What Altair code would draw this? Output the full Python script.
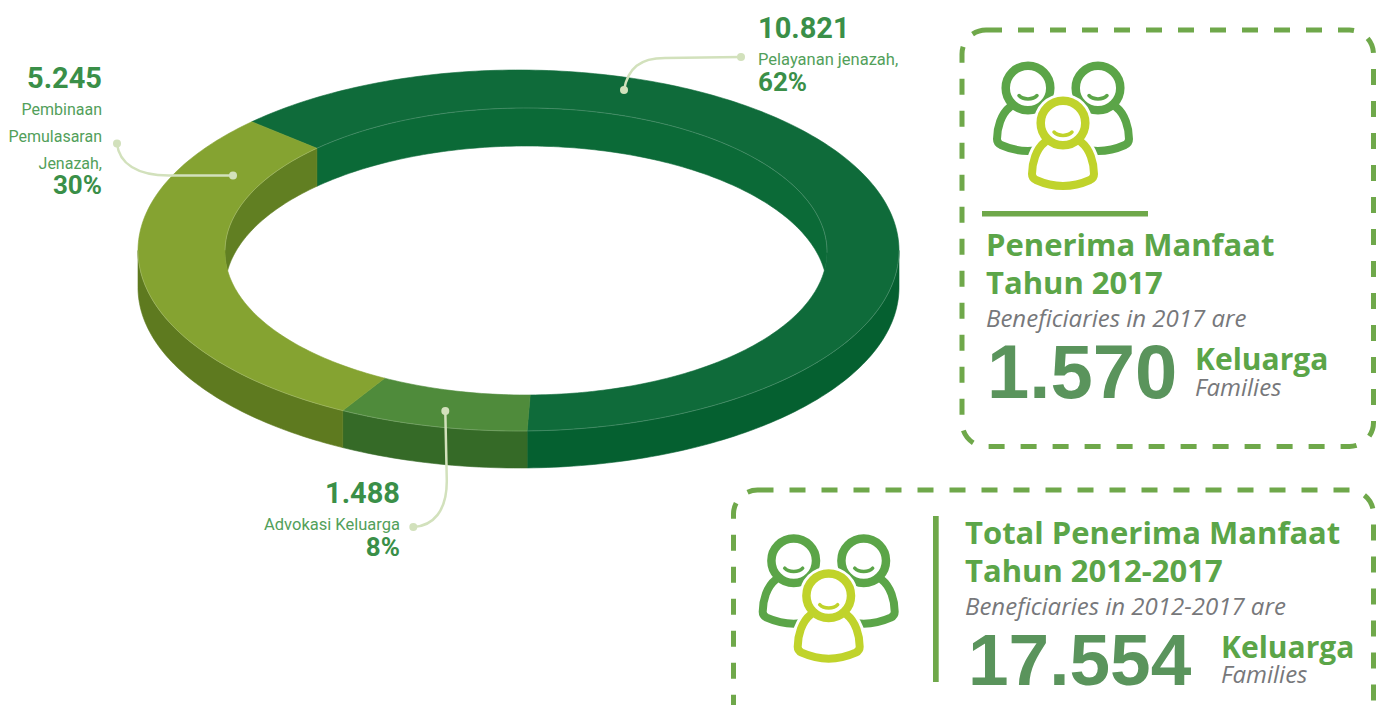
import math
import altair as alt

# ---- data ----
SLICE_NAMES = ["Pelayanan jenazah", "Advokasi Keluarga", "Pembinaan Pemulasaran Jenazah"]
SLICE_VALUES = [10821, 1488, 5245]
SLICE_PERCENT = [62, 8, 30]
SLICE_TOP = ["#0F6B3A", "#4F8B3B", "#85A331"]
SLICE_OUTER_WALL = ["#056030", "#356A27", "#5E7A1F"]
SLICE_INNER_WALL = ["#0B6A37", "#356A27", "#617F22"]

NUM_COLOR = "#3A8F48"
SUB_COLOR = "#52A05A"
HEAD_COLOR = "#5BA548"
GREY = "#77787B"
BIG_COLOR = "#5A945C"
LINE_COLOR = "#6FA84A"
LEADER = "#D2E1BC"
ICON_BACK = "#5BA548"
ICON_FRONT = "#C0D32B"

OFF = 8
NARROW = "Roboto"
HEADF = "Open Sans"


def px(v):
    return v - OFF


def label(text, x, y, size, color, font=NARROW, bold=False, italic=False, align="left"):
    return alt.Chart(alt.Data(values=[{"t": text}])).mark_text(
        baseline="alphabetic", align=align, fontSize=size, color=color, font=font,
        fontWeight="bold" if bold else "normal",
        fontStyle="italic" if italic else "normal",
    ).encode(x=alt.value(px(x)), y=alt.value(px(y)), text="t:N")


def glyph(path, x, y, stroke, width=2.5, fill=None):
    mk = dict(shape=path, size=4, stroke=stroke, strokeWidth=width, opacity=1,
              strokeCap="round", strokeJoin="round")
    if fill:
        mk.update(filled=True, fill=fill)
    else:
        mk.update(filled=False)
    return alt.Chart(alt.Data(values=[{"a": 0}])).mark_point(**mk).encode(
        x=alt.value(px(x)), y=alt.value(px(y)))


def disc(x, y, r, color, width=0, stroke=None, fill=None):
    mk = dict(shape="circle", size=(2 * r) ** 2, opacity=1)
    if stroke:
        mk.update(stroke=stroke, strokeWidth=width)
    if fill:
        mk.update(filled=True, fill=fill)
    else:
        mk.update(filled=False)
    return alt.Chart(alt.Data(values=[{"a": 0}])).mark_point(**mk).encode(
        x=alt.value(px(x)), y=alt.value(px(y)))


def bar(x1, y1, x2, y2, color):
    return alt.Chart(alt.Data(values=[{"a": 0}])).mark_rect(color=color).encode(
        x=alt.value(px(x1)), x2=alt.value(px(x2)), y=alt.value(px(y1)), y2=alt.value(px(y2)))


def dashed_box(x1, y1, x2, y2):
    return alt.Chart(alt.Data(values=[{"a": 0}])).mark_rect(
        fill="transparent", stroke=LINE_COLOR, strokeWidth=5, strokeDash=[16, 16], cornerRadius=24
    ).encode(x=alt.value(px(x1)), x2=alt.value(px(x2)), y=alt.value(px(y1)), y2=alt.value(px(y2)))


# ---- 3-D ring, all angles derived from the percent shares ----
OCX, OCY, ORX, ORY = 518.5, 250.5, 380.5, 180.5
ICX, ICY, IRX, IRY = 526.0, 251.5, 301.0, 143.5
DEPTH_OUT, DEPTH_IN = 37.0, 38.0
START = 225.5
INNER_SKEW = 0.5


def outer(t):
    a = math.radians(t)
    return [OCX - OFF + ORX * math.cos(a), OCY - OFF + ORY * math.sin(a)]


def inner(t):
    a = math.radians(t + INNER_SKEW)
    return [ICX - OFF + IRX * math.cos(a), ICY - OFF + IRY * math.sin(a)]


def steps(a, b):
    n = max(2, int(abs(b - a)) + 1)
    return [a + (b - a) * i / (n - 1) for i in range(n)]


def poly(points, color):
    ring = points + [points[0]]
    return {"type": "Feature", "properties": {"c": color},
            "geometry": {"type": "Polygon", "coordinates": [ring]}}


def line(points):
    return {"type": "Feature", "properties": {"c": "w"},
            "geometry": {"type": "LineString", "coordinates": points}}


total = sum(SLICE_PERCENT)
tops, owalls, iwalls = [], [], []
t0 = START
spans = []
for v in SLICE_PERCENT:
    t1 = t0 + v / total * 360
    spans.append((t0, t1))
    t0 = t1

for (a, b), ct, co, ci in zip(spans, SLICE_TOP, SLICE_OUTER_WALL, SLICE_INNER_WALL):
    ts = steps(a, b)
    tops.append(poly([outer(t) for t in ts] + [inner(t) for t in reversed(ts)], ct))
    for k in (0, 360, 720):
        lo, hi = max(a, k), min(b, k + 180)
        if hi > lo:
            w = steps(lo, hi)
            up = [outer(t) for t in w]
            owalls.append(poly(up + [[p[0], p[1] + DEPTH_OUT] for p in reversed(up)], co))
    for k in (180, 540):
        lo, hi = max(a, k), min(b, k + 180)
        if hi > lo:
            w = steps(lo, hi)
            up = [inner(t) for t in w]
            low = []
            for p in reversed(up):
                dx = (p[0] - (ICX - OFF)) / IRX
                edge = ICY - OFF + IRY * math.sqrt(max(0.0, 1 - dx * dx))
                low.append([p[0], min(p[1] + DEPTH_IN, edge)])
            iwalls.append(poly(up + low, ci))

edge_lines = [line([inner(t) for t in steps(180, 360)]),
              line([outer(t) for t in steps(0, 180)])]

PROJ = alt.Projection(type="identity", scale=1, translate=[0, 0])


def geo(features):
    return alt.Chart(alt.Data(values=features)).mark_geoshape(strokeWidth=0.6).encode(
        color=alt.Color("properties.c:N", scale=None),
        stroke=alt.Stroke("properties.c:N", scale=None),
    ).project(**PROJ.to_dict())


ring_layers = [geo(owalls), geo(iwalls), geo(tops)]
edge_layer = alt.Chart(alt.Data(values=edge_lines)).mark_geoshape(
    filled=False, stroke="#FFFFFF", strokeWidth=0.6, strokeOpacity=0.3
).project(**PROJ.to_dict())

# ---- icon glyphs ----
BODY = ("M-18,19C-27,26,-31,40,-31,51C-31,55,-29,56,-27,57C-18,61,-8,63,0,63"
        "C8,63,18,61,27,57C29,56,31,55,31,51C31,40,27,26,18,19")
BODY_FILL = BODY + "Z"
SMILE = "M-9,6C-5,10.5,5,10.5,9,6"
R = 22.3


def icon(cx, cy):
    lx, rx, by = cx - 35, cx + 35, cy - 35
    out = []
    for hx in (lx, rx):
        out += [glyph(BODY, hx, by, ICON_BACK, 8),
                disc(hx, by, R, ICON_BACK, 8.5, ICON_BACK),
                glyph(SMILE, hx, by + 1.5, ICON_BACK, 3.5)]
    out += [glyph(BODY_FILL, cx, cy, "#FFFFFF", 14, "#FFFFFF"),
            disc(cx, cy, R + 3, "#FFFFFF", 8, "#FFFFFF", "#FFFFFF"),
            glyph(BODY, cx, cy, ICON_FRONT, 8),
            disc(cx, cy, R, ICON_FRONT, 8.5, ICON_FRONT, "#FFFFFF"),
            glyph(SMILE, cx, cy + 3, ICON_FRONT, 3.5)]
    return out


layers = []
layers += ring_layers + [edge_layer]

# leaders
layers += [
    glyph("M0,0C4,-22,16,-32,41,-32L117,-33", 624, 90, LEADER),
    disc(624, 90, 4, LEADER, fill=LEADER), disc(741, 57, 4, LEADER, fill=LEADER),
    glyph("M0,0C2,20,20,32,52,32L116,32", 117, 143.5, LEADER),
    disc(117, 143.5, 4, LEADER, fill=LEADER), disc(233, 175.5, 4, LEADER, fill=LEADER),
    glyph("M0,0L1.5,70C1.5,100,-12,115,-32,116", 445.3, 411, LEADER),
    disc(445.3, 411, 4, LEADER, fill=LEADER), disc(413.3, 527, 4, LEADER, fill=LEADER),
]

# labels
layers += [
    label("10.821", 758, 38, 29, NUM_COLOR, bold=True),
    label("Pelayanan jenazah,", 758, 65, 16.5, SUB_COLOR),
    label("62%", 758, 90.5, 26, NUM_COLOR, bold=True),
    label("5.245", 102, 88, 29, NUM_COLOR, bold=True, align="right"),
    label("Pembinaan", 102, 115, 16, SUB_COLOR, align="right"),
    label("Pemulasaran", 102, 142, 16, SUB_COLOR, align="right"),
    label("Jenazah,", 102, 169, 16, SUB_COLOR, align="right"),
    label("30%", 102, 194, 26, NUM_COLOR, bold=True, align="right"),
    label("1.488", 400, 502.7, 29, NUM_COLOR, bold=True, align="right"),
    label("Advokasi Keluarga", 400, 530, 16.5, SUB_COLOR, align="right"),
    label("8%", 400, 555.7, 26, NUM_COLOR, bold=True, align="right"),
]

# box one
layers += [dashed_box(962, 30, 1373.5, 446.5)] + icon(1063, 123) + [
    bar(982, 211, 1148, 216.5, LINE_COLOR),
    label("Penerima Manfaat", 986, 256, 31, HEAD_COLOR, font=HEADF, bold=True),
    label("Tahun 2017", 986, 294, 31, HEAD_COLOR, font=HEADF, bold=True),
    label("Beneficiaries in 2017 are", 986, 327, 24, GREY, font=HEADF, italic=True),
    label("1.570", 987, 398, 76, BIG_COLOR, font="Liberation Sans", bold=True),
    label("Keluarga", 1195, 370, 30, HEAD_COLOR, font=HEADF, bold=True),
    label("Families", 1195, 395.7, 24, GREY, font=HEADF, italic=True),
]

# box two
layers += [dashed_box(733.5, 490, 1373.5, 740)] + icon(828.7, 595.7) + [
    bar(933, 516, 938.7, 682, LINE_COLOR),
    label("Total Penerima Manfaat", 965, 544, 31, HEAD_COLOR, font=HEADF, bold=True),
    label("Tahun 2012-2017", 965, 582, 31, HEAD_COLOR, font=HEADF, bold=True),
    label("Beneficiaries in 2012-2017 are", 965, 615, 24, GREY, font=HEADF, italic=True),
    label("17.554", 968, 685, 73, BIG_COLOR, font="Liberation Sans", bold=True),
    label("Keluarga", 1221, 658, 30, HEAD_COLOR, font=HEADF, bold=True),
    label("Families", 1221, 683, 24, GREY, font=HEADF, italic=True),
]

chart = alt.layer(*layers).properties(
    width=1368, height=697, padding=0, background="#FFFFFF",
    autosize=alt.AutoSizeParams(type="none")
).configure_view(stroke=None)

chart.save("out.html", embed_options={"renderer": "svg", "actions": False})
